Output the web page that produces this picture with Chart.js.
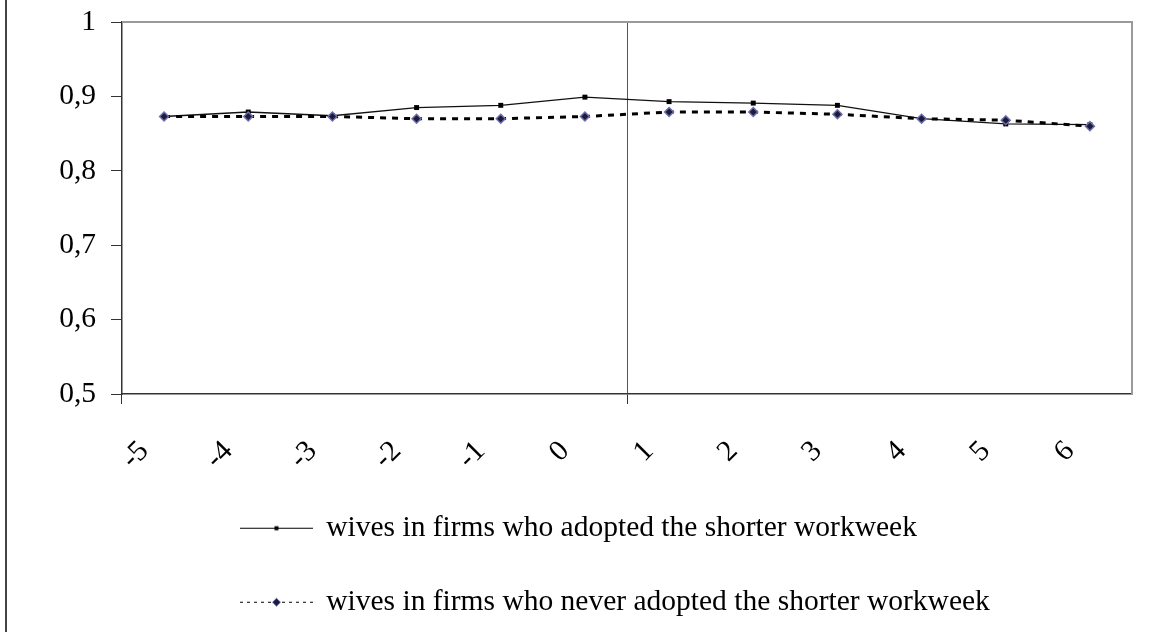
<!DOCTYPE html>
<html>
<head>
<meta charset="utf-8">
<script src="https://cdn.jsdelivr.net/npm/chart.js@4/dist/chart.umd.min.js"></script>
<style>
  html, body { margin: 0; padding: 0; background: #fff; }
  #wrap { width: 1162px; height: 632px; position: relative; }
</style>
</head>
<body>
<div id="wrap"><canvas id="grafico"></canvas></div>
<script>
// periods relative to the adoption year
const periods = ['-5', '-4', '-3', '-2', '-1', '0', '1', '2', '3', '4', '5', '6'];
const adoptedShare = [0.873, 0.879, 0.874, 0.885, 0.888, 0.899, 0.893, 0.891, 0.888, 0.870, 0.863, 0.862];
const neverShare = [0.873, 0.873, 0.873, 0.870, 0.870, 0.873, 0.879, 0.879, 0.876, 0.870, 0.868, 0.860];
const seriesNames = [
    'wives in firms who adopted the shorter workweek',
    'wives in firms who never adopted the shorter workweek'
];
const yTicks = [0.5, 0.6, 0.7, 0.8, 0.9, 1];

const serif = 'Liberation Serif';
const fontSize = 29.5;
const axisColor = '#333';
const separatorIndex = periods.indexOf('1'); // line between 0 and 1

function legendIcon(dashed, marker) {
    const c = document.createElement('canvas');
    c.width = 73;
    c.height = 12;
    const g = c.getContext('2d');
    g.strokeStyle = '#000';
    g.lineWidth = 1;
    if (dashed) g.setLineDash([3, 4]);
    g.beginPath();
    g.moveTo(0, 6.5);
    g.lineTo(73, 6.5);
    g.stroke();
    g.setLineDash([]);
    if (marker === 'rect') {
        g.fillStyle = '#000';
        g.fillRect(34.5, 4.5, 4, 4);
    } else {
        g.fillStyle = '#1b1b3a';
        g.strokeStyle = '#6f6fae';
        g.beginPath();
        g.moveTo(36.5, 2.5);
        g.lineTo(40.5, 6.5);
        g.lineTo(36.5, 10.5);
        g.lineTo(32.5, 6.5);
        g.closePath();
        g.fill();
        g.stroke();
    }
    return c;
}
const legendIcons = [legendIcon(false, 'rect'), legendIcon(true, 'diamond')];

const frame = {
    id: 'frame',
    afterLayout(chart) {
        // Excel keeps the legend entries left aligned under the plot
        chart.legend.left = chart.chartArea.left + 75;
    },
    beforeDatasetsDraw(chart) {
        const {ctx, chartArea: a} = chart;
        ctx.save();
        ctx.strokeStyle = '#9a9a9a';
        ctx.lineWidth = 2;
        ctx.beginPath();
        ctx.moveTo(a.left, a.top);
        ctx.lineTo(a.right, a.top);
        ctx.lineTo(a.right, a.bottom);
        ctx.stroke();
        ctx.strokeStyle = '#444';
        ctx.beginPath();
        ctx.moveTo(6, 0);
        ctx.lineTo(6, chart.height);
        ctx.stroke();
        ctx.restore();
    }
};

window.onload = function(){
    let ctx = document.getElementById('grafico').getContext('2d');
    let grafico = new Chart(ctx, {
        type: 'line',
        data: {
            labels: periods,
            datasets: [{
                label: seriesNames[0],
                data: adoptedShare,
                borderColor: '#111',
                borderWidth: 1.3,
                backgroundColor: '#000',
                pointStyle: 'rect',
                pointRadius: 3.5,
                pointBackgroundColor: '#000',
                pointBorderColor: '#000',
                pointBorderWidth: 0,
                tension: 0,
                order: 2
            }, {
                label: seriesNames[1],
                data: neverShare,
                borderColor: '#000',
                borderWidth: 3,
                borderDash: [6, 6],
                pointStyle: 'rectRot',
                pointRadius: 4.5,
                pointBackgroundColor: '#1b1b3a',
                pointBorderColor: '#6f6fae',
                pointBorderWidth: 1.5,
                tension: 0,
                order: 1
            }]
        },
        options: {
            responsive: true,
            maintainAspectRatio: false,
            animation: false,
            layout: { padding: { top: 22, right: 30, bottom: 5.5, left: 0 } },
            scales: {
                x: {
                    offset: true,
                    afterFit: (s) => { s.height = 74.5; },
                    grid: {
                        offset: true,
                        drawOnChartArea: true,
                        color: (c) => c.index === separatorIndex ? '#555' : 'rgba(0,0,0,0)',
                        tickColor: (c) => c.index % 6 === 0 ? axisColor : 'rgba(0,0,0,0)',
                        tickLength: 10,
                        lineWidth: 1
                    },
                    border: { display: true, color: axisColor, width: 1.5 },
                    ticks: {
                        autoSkip: false,
                        minRotation: 45,
                        maxRotation: 45,
                        padding: 30,
                        labelOffset: -20,
                        color: '#000',
                        font: { family: serif, size: fontSize }
                    }
                },
                y: {
                    min: 0.5,
                    max: 1,
                    afterFit: (s) => {
                        s.width = 122;
                        s.paddingTop = 0;
                        s.paddingBottom = 0;
                    },
                    afterBuildTicks: (s) => { s.ticks = yTicks.map(v => ({ value: v })); },
                    grid: {
                        drawOnChartArea: false,
                        tickLength: 11,
                        tickColor: axisColor
                    },
                    border: { display: true, color: axisColor, width: 1.5 },
                    ticks: {
                        padding: 15,
                        color: '#000',
                        font: { family: serif, size: fontSize },
                        callback: (v) => String(Math.round(v * 10) / 10).replace('.', ',')
                    }
                }
            },
            plugins: {
                tooltip: { enabled: false },
                legend: {
                    position: 'bottom',
                    align: 'start',
                    labels: {
                        usePointStyle: true,
                        pointStyleWidth: 70,
                        padding: 44.5,
                        color: '#000',
                        font: { family: serif, size: fontSize },
                        generateLabels: (chart) => chart.data.datasets.map((d, i) => ({
                            text: d.label,
                            pointStyle: legendIcons[i],
                            fillStyle: 'rgba(0,0,0,0)',
                            strokeStyle: 'rgba(0,0,0,0)',
                            lineWidth: 0,
                            fontColor: '#000',
                            datasetIndex: i,
                            hidden: false
                        }))
                    }
                }
            }
        },
        plugins: [frame]
    });
}
</script>
</body>
</html>
